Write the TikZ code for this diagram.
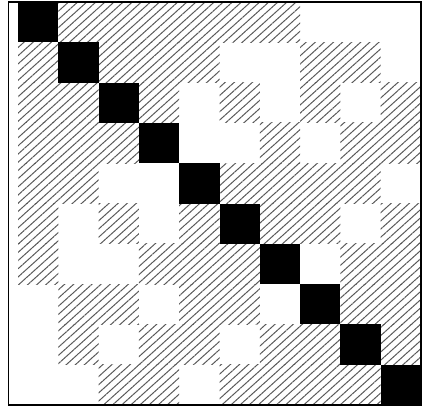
\documentclass[tikz,border=0pt]{standalone}
\usepackage{tikz}
\usetikzlibrary{patterns.meta}

\tikzset{
	hatchcell/.style={pattern={Lines[angle=42,distance=4.3pt,line width=0.7pt]},pattern color=black!65},
	diagcell/.style={fill=black}
}

\begin{document}
\begin{tikzpicture}
	\useasboundingbox (-0.447,-0.074) rectangle (10.05,10.05);
	
	% 斜线填充的格子（行号从上往下数，列号从左往右数）
	\foreach \r/\cols in {1/{2,3,4,5,6,7}, 2/{1,3,4,5,8,9}, 3/{1,2,4,6,8,10},
		4/{1,2,3,7,9,10}, 5/{1,2,6,7,8,9}, 6/{1,3,5,7,8,10}, 7/{1,4,5,6,9,10},
		8/{2,3,5,6,9,10}, 9/{2,4,5,7,8,10}, 10/{3,4,6,7,8,9}}
		\foreach \c in \cols
			\fill[hatchcell] (\c-1,10-\r) rectangle (\c,11-\r);
	
	% 对角线上的黑色格子
	\foreach \i in {1,...,10}
		\fill[diagcell] (\i-1,10-\i) rectangle (\i,11-\i);
	
	% 外框
	\draw[line width=0.9pt] (-0.24,0) rectangle (10,10);
\end{tikzpicture}
\end{document}
